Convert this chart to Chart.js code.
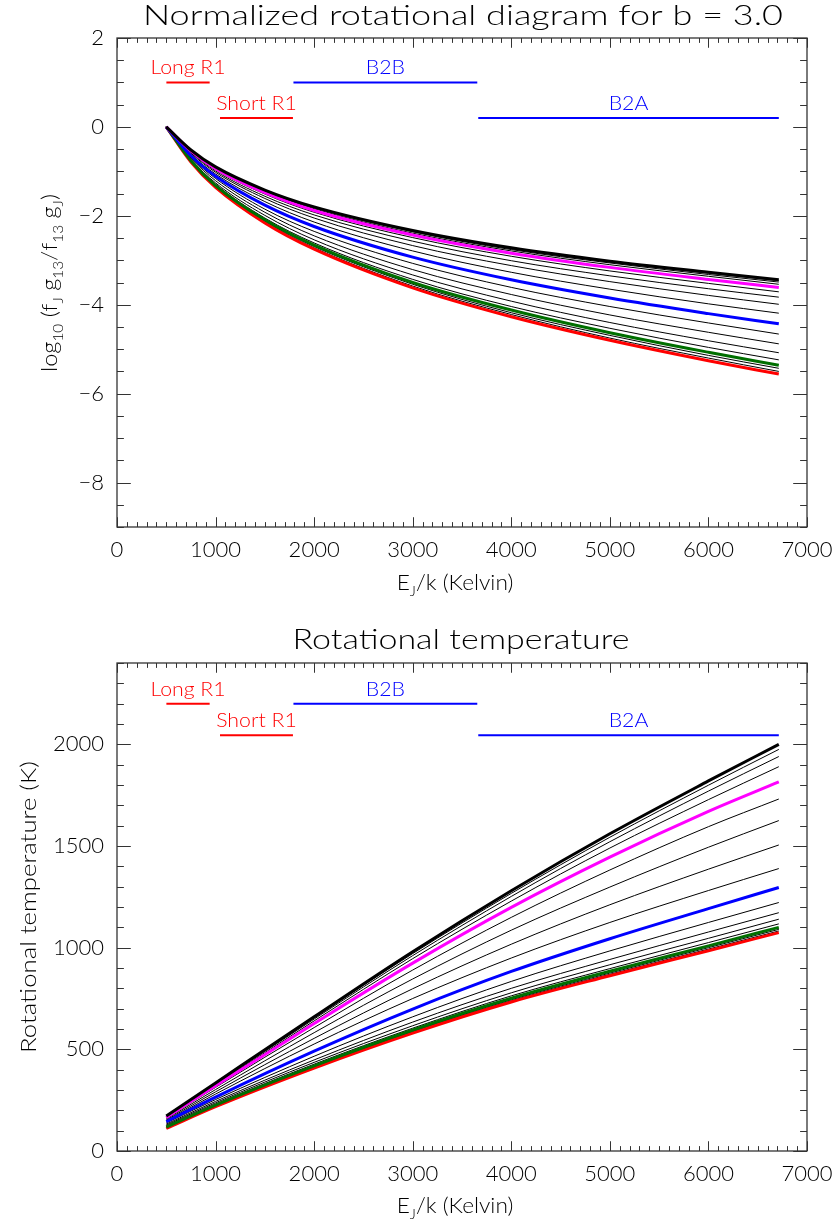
<!DOCTYPE html>
<html>
<head>
<meta charset="utf-8">
<script src="https://cdn.jsdelivr.net/npm/chart.js@4.4.0/dist/chart.umd.min.js"></script>
<style>
  html, body { margin: 0; padding: 0; background: #fff; }
  .box { position: absolute; left: 0; width: 835px; height: 612px; }
</style>
</head>
<body>
<div class="box" style="top:0"><canvas id="rotDiagram"></canvas></div>
<div class="box" style="top:612px"><canvas id="rotTemp"></canvas></div>
<script>
// ---- top panel: log10 ratio vs E_J/k ----
const energyTop = [500, 750, 1000, 1500, 2000, 3000, 4000, 5000, 6000, 6714];
const logBlack   = [0, -0.52, -0.90, -1.42, -1.80, -2.33, -2.72, -3.02, -3.27, -3.44];
const logMagenta = [0, -0.54, -0.94, -1.48, -1.88, -2.43, -2.84, -3.16, -3.43, -3.61];
const logBlue    = [0, -0.65, -1.11, -1.76, -2.24, -2.93, -3.44, -3.85, -4.20, -4.43];
const logGreen   = [0, -0.76, -1.32, -2.09, -2.66, -3.50, -4.12, -4.63, -5.07, -5.36];
const logRed     = [0, -0.79, -1.36, -2.16, -2.75, -3.62, -4.27, -4.80, -5.26, -5.56];
const logThin = [
  [0, -0.52, -0.90, -1.43, -1.81, -2.34, -2.74, -3.04, -3.29, -3.46],
  [0, -0.53, -0.91, -1.44, -1.82, -2.36, -2.76, -3.06, -3.32, -3.49],
  [0, -0.53, -0.92, -1.45, -1.84, -2.39, -2.79, -3.10, -3.36, -3.54],
  [0, -0.55, -0.96, -1.51, -1.92, -2.49, -2.91, -3.24, -3.52, -3.71],
  [0, -0.57, -0.99, -1.56, -1.98, -2.57, -3.01, -3.35, -3.64, -3.83],
  [0, -0.59, -1.02, -1.61, -2.05, -2.67, -3.12, -3.48, -3.79, -3.99],
  [0, -0.62, -1.06, -1.68, -2.14, -2.79, -3.27, -3.65, -3.98, -4.19],
  [0, -0.68, -1.16, -1.85, -2.35, -3.07, -3.61, -4.04, -4.41, -4.66],
  [0, -0.70, -1.21, -1.92, -2.45, -3.21, -3.77, -4.23, -4.62, -4.88],
  [0, -0.73, -1.26, -1.99, -2.54, -3.33, -3.92, -4.40, -4.81, -5.08],
  [0, -0.75, -1.29, -2.05, -2.61, -3.43, -4.04, -4.53, -4.96, -5.24],
  [0, -0.77, -1.33, -2.12, -2.69, -3.54, -4.18, -4.69, -5.14, -5.43],
  [0, -0.78, -1.35, -2.14, -2.72, -3.58, -4.22, -4.75, -5.20, -5.50]
];

// ---- bottom panel: rotational temperature (K) ----
const energyBot = [500, 1000, 2000, 3000, 4000, 5000, 6000, 6714];
const tBlack   = [172, 335, 660, 980, 1280, 1560, 1820, 2000];
const tMagenta = [165, 321, 627, 924, 1198, 1445, 1670, 1815];
const tBlue    = [144, 265, 491, 698, 883, 1044, 1192, 1296];
const tGreen   = [118, 226, 419, 595, 751, 884, 1009, 1100];
const tRed     = [111, 218, 408, 580, 733, 862, 985, 1074];
const tThin = [
  [171, 333, 655, 971, 1267, 1543, 1799, 1975],
  [170, 330, 649, 961, 1252, 1521, 1770, 1940],
  [168, 326, 640, 946, 1229, 1490, 1728, 1890],
  [162, 313, 607, 890, 1149, 1382, 1595, 1731],
  [157, 302, 582, 846, 1086, 1298, 1494, 1625],
  [152, 291, 554, 798, 1017, 1211, 1386, 1505],
  [148, 280, 526, 750, 949, 1124, 1281, 1389],
  [138, 253, 466, 660, 834, 984, 1124, 1222],
  [132, 244, 448, 634, 800, 942, 1077, 1172],
  [127, 237, 436, 616, 778, 916, 1046, 1140],
  [122, 231, 427, 604, 763, 897, 1025, 1117],
  [115, 223, 415, 589, 744, 875, 1000, 1090],
  [113, 220, 412, 585, 739, 869, 993, 1082]
];

// band markers (E_J/k ranges)
const bandNames = ['Long R1', 'Short R1', 'B2B', 'B2A'];
const bandStart = [501, 1045, 1790, 3665];
const bandEnd   = [940, 1785, 3655, 6714];
const bandLevelTop = [1.0, 0.2, 1.0, 0.2];
const bandLevelBot = [2200, 2045, 2200, 2045];

// tick labels
const xTicks = [0, 1000, 2000, 3000, 4000, 5000, 6000, 7000];
const yTicksTop = [-8, -6, -4, -2, 0, 2];
const yTicksBot = [0, 500, 1000, 1500, 2000];

const bandColor = ['#ff0000', '#ff0000', '#0000ff', '#0000ff'];
const FONT = 'Lato';

function pts(xs, ys) { return xs.map((x, i) => ({ x: x, y: ys[i] })); }

function buildSets(xs, black, thin, magenta, blue, green, red, levels) {
  const sets = [];
  const line = (data, color, w, order) => ({
    data: data, borderColor: color, borderWidth: w, order: order,
    pointRadius: 0, fill: false, cubicInterpolationMode: 'monotone'
  });
  sets.push(line(pts(xs, black), '#000000', 3, 0));
  sets.push(line(pts(xs, magenta), '#ff00ff', 3, 1));
  sets.push(line(pts(xs, blue), '#0000ff', 3, 1));
  sets.push(line(pts(xs, green), '#006f00', 3, 1));
  sets.push(line(pts(xs, red), '#ff0000', 3, 1));
  thin.forEach(t => sets.push(line(pts(xs, t), '#000000', 1, 5)));
  bandNames.forEach((n, i) => {
    sets.push(line([{ x: bandStart[i], y: levels[i] }, { x: bandEnd[i], y: levels[i] }], bandColor[i], 2, 2));
  });
  return sets;
}

function fontStr(size) { return '300 ' + size + 'px ' + FONT; }

function richWidth(ctx, parts, size) {
  let w = 0;
  parts.forEach(p => { ctx.font = fontStr(p[1] ? size * 0.65 : size); w += ctx.measureText(p[0]).width; });
  return w;
}

// draws text with subscripts, centred on (0, 0) in current transform
function drawRich(ctx, parts, size) {
  let x = -richWidth(ctx, parts, size) / 2;
  ctx.textAlign = 'left';
  ctx.textBaseline = 'alphabetic';
  parts.forEach(p => {
    const s = p[1] ? size * 0.65 : size;
    ctx.font = fontStr(s);
    ctx.fillText(p[0], x, p[1] ? size * 0.28 : 0);
    x += ctx.measureText(p[0]).width;
  });
}

const decorPlugin = {
  id: 'idlDecor',
  afterDatasetsDraw(chart, args, o) {
    const { ctx, chartArea: a, scales: { x, y } } = chart;
    ctx.save();
    ctx.strokeStyle = '#333';
    ctx.lineWidth = 1.3;
    ctx.strokeRect(a.left, a.top, a.right - a.left, a.bottom - a.top);
    ctx.lineWidth = 1;
    const yLen = 0.02 * (a.right - a.left);
    const xLen = 0.02 * (a.bottom - a.top);
    ctx.beginPath();
    for (let v = x.min; v <= x.max + 1e-6; v += 100) {
      const px = Math.round(x.getPixelForValue(v)) + 0.5;
      const len = v % 1000 === 0 ? xLen : xLen / 2;
      ctx.moveTo(px, a.bottom); ctx.lineTo(px, a.bottom - len);
      ctx.moveTo(px, a.top); ctx.lineTo(px, a.top + len);
    }
    for (let v = y.min; v <= y.max + 1e-6; v += o.yMinor) {
      const py = Math.round(y.getPixelForValue(v)) + 0.5;
      const len = Math.abs(v % o.yMajor) < 1e-6 ? yLen : yLen / 2;
      ctx.moveTo(a.left, py); ctx.lineTo(a.left + len, py);
      ctx.moveTo(a.right, py); ctx.lineTo(a.right - len, py);
    }
    ctx.stroke();

    // band labels, slightly widened like the original stroke font
    ctx.font = fontStr(19);
    ctx.textAlign = 'center';
    ctx.textBaseline = 'alphabetic';
    bandNames.forEach((n, i) => {
      ctx.fillStyle = bandColor[i];
      const cx = x.getPixelForValue((bandStart[i] + bandEnd[i]) / 2);
      const cy = y.getPixelForValue(o.levels[i]) - 8;
      ctx.save();
      ctx.translate(cx, cy);
      ctx.scale(1.12, 1);
      ctx.fillText(n, 0, 0);
      ctx.restore();
    });
    ctx.restore();
  },
  afterDraw(chart, args, o) {
    const ctx = chart.ctx;
    ctx.save();
    ctx.fillStyle = '#000';
    ctx.font = fontStr(27);
    const tw = ctx.measureText(o.title).width;
    ctx.translate(o.titleX, o.titleY);
    ctx.scale(o.titleWidth / tw, 1);
    ctx.textAlign = 'center';
    ctx.textBaseline = 'alphabetic';
    ctx.fillText(o.title, 0, 0);
    ctx.restore();

    ctx.save();
    ctx.fillStyle = '#000';
    ctx.translate(o.xTitleX, o.xTitleY);
    ctx.scale(1.08, 1);
    drawRich(ctx, [['E', 0], ['J', 1], ['/k (Kelvin)', 0]], 21);
    ctx.restore();

    ctx.save();
    ctx.fillStyle = '#000';
    ctx.translate(o.yTitleX, o.yTitleY);
    ctx.rotate(-Math.PI / 2);
    const w = richWidth(ctx, o.yTitle, o.yTitleSize);
    ctx.scale(o.yTitleLen / w, 1);
    drawRich(ctx, o.yTitle, o.yTitleSize);
    ctx.restore();
  }
};

function minusFmt(v) { return v < 0 ? '\u2212' + Math.abs(v) : String(v); }

function makeChart(id, sets, yMin, yMax, yTicks, padTop, xHeight, decor) {
  return new Chart(document.getElementById(id), {
    type: 'line',
    data: { datasets: sets },
    plugins: [decorPlugin],
    options: {
      responsive: true,
      maintainAspectRatio: false,
      animation: false,
      devicePixelRatio: 1,
      layout: { padding: { left: 0, right: 28, top: padTop, bottom: 0 } },
      plugins: { legend: { display: false }, tooltip: { enabled: false }, title: { display: false }, idlDecor: decor },
      scales: {
        x: {
          type: 'linear', min: 0, max: 7000,
          grid: { display: false, drawTicks: false },
          border: { display: false },
          ticks: { padding: 10, color: '#000', maxRotation: 0, autoSkip: false,
                   font: { family: FONT, size: 22, weight: 300 }, callback: v => String(v) },
          afterBuildTicks(s) { s.ticks = xTicks.map(v => ({ value: v })); },
          afterFit(s) { s.height = xHeight; s.paddingLeft = 0; s.paddingRight = 0; }
        },
        y: {
          type: 'linear', min: yMin, max: yMax,
          grid: { display: false, drawTicks: false },
          border: { display: false },
          ticks: { padding: 13, color: '#000', autoSkip: false,
                   font: { family: FONT, size: 22, weight: 300 }, callback: minusFmt },
          afterBuildTicks(s) { s.ticks = yTicks.map(v => ({ value: v })); },
          afterFit(s) { s.width = 117; s.paddingTop = 0; s.paddingBottom = 0; }
        }
      }
    }
  });
}

makeChart('rotDiagram',
  buildSets(energyTop, logBlack, logThin, logMagenta, logBlue, logGreen, logRed, bandLevelTop),
  -9, 2, yTicksTop, 38, 85,
  {
    yMajor: 2, yMinor: 0.5, levels: bandLevelTop,
    title: 'Normalized rotational diagram for b = 3.0', titleX: 463, titleY: 25, titleWidth: 640,
    xTitleX: 455, xTitleY: 590,
    yTitle: [['log', 0], ['10', 1], [' (f', 0], ['J', 1], [' g', 0], ['13', 1], ['/f', 0], ['13', 1], [' g', 0], ['J', 1], [')', 0]],
    yTitleSize: 22, yTitleX: 57, yTitleY: 283, yTitleLen: 178
  });

makeChart('rotTemp',
  buildSets(energyBot, tBlack, tThin, tMagenta, tBlue, tGreen, tRed, bandLevelBot),
  0, 2400, yTicksBot, 51, 73,
  {
    yMajor: 500, yMinor: 100, levels: bandLevelBot,
    title: 'Rotational temperature', titleX: 461, titleY: 37, titleWidth: 337,
    xTitleX: 455, xTitleY: 601,
    yTitle: [['Rotational temperature (K)', 0]],
    yTitleSize: 21, yTitleX: 36, yTitleY: 295, yTitleLen: 292
  });
</script>
</body>
</html>
